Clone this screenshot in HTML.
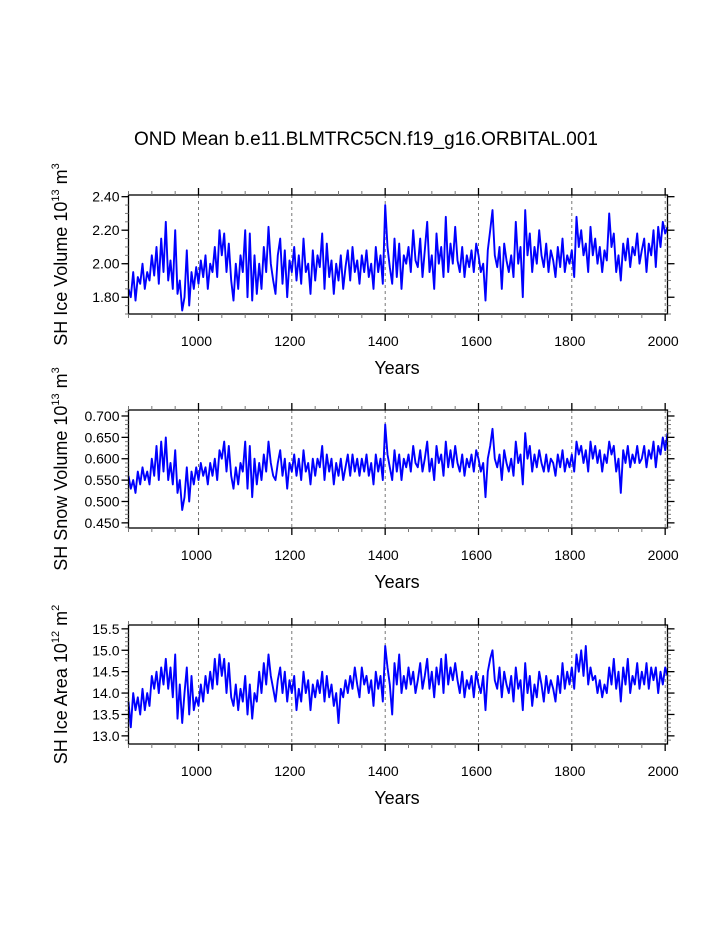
<!DOCTYPE html>
<html><head><meta charset="utf-8"><style>
body{margin:0;background:#fff;}
svg{display:block;font-family:"Liberation Sans",Arial,sans-serif;}
</style></head><body>
<svg id="c" width="723" height="935" xmlns="http://www.w3.org/2000/svg">
<rect width="723" height="935" fill="#fff"/>
<text x="366" y="145" text-anchor="middle" font-size="19">OND Mean b.e11.BLMTRC5CN.f19_g16.ORBITAL.001</text>
</svg>
<script>
const startYear = 850, stepYears = 5;
const iceVolume = [1.85,1.80,1.95,1.78,1.92,1.88,2.00,1.85,1.95,1.90,2.05,1.93,2.10,1.88,2.15,1.95,2.25,1.90,2.02,1.85,
2.20,1.82,1.90,1.72,1.80,2.08,1.75,1.95,1.85,1.98,1.88,2.02,1.92,2.05,1.85,2.00,1.95,2.10,1.92,2.20,
2.05,2.18,1.95,2.12,1.90,1.78,2.00,1.85,2.05,1.95,2.20,1.80,2.18,1.78,2.05,1.82,2.00,1.85,2.10,1.95,
2.22,2.00,1.90,1.82,2.05,2.15,1.88,2.08,1.80,2.02,1.95,2.10,1.90,2.05,1.88,2.15,1.95,2.00,1.82,2.08,
1.90,2.05,1.98,2.18,1.85,2.12,1.92,2.02,1.82,2.00,1.90,2.05,1.85,1.98,2.08,1.90,2.10,1.95,2.02,1.88,
2.05,1.95,2.08,1.92,2.00,1.85,2.10,1.95,2.05,1.88,2.35,2.10,1.98,1.88,2.15,1.92,2.12,1.85,2.05,2.00,
2.10,1.95,2.20,2.02,1.98,2.15,1.92,2.08,2.25,1.95,2.05,1.85,2.18,2.00,2.10,1.92,2.28,1.95,2.12,2.00,
2.22,2.02,1.95,2.10,1.92,2.05,1.98,2.08,1.95,2.12,2.05,1.95,2.00,1.78,2.08,2.20,2.32,2.05,1.98,2.10,
1.85,2.12,2.02,1.95,2.05,1.92,2.25,2.00,2.10,1.80,2.32,2.05,2.18,1.95,2.10,2.00,2.20,2.05,1.98,2.12,
1.95,2.08,2.02,1.92,2.10,1.98,2.15,1.95,2.05,2.00,2.08,1.92,2.28,2.10,2.20,2.05,2.12,1.95,2.22,2.05,
2.15,2.00,2.10,1.95,2.08,2.02,2.30,2.10,2.18,1.95,2.05,1.90,2.12,2.02,2.15,1.98,2.10,2.05,2.18,2.00,
2.08,2.15,1.95,2.12,2.05,2.20,1.98,2.22,2.10,2.25,2.18,2.22];
const snowVolume = [0.56,0.53,0.55,0.52,0.57,0.54,0.58,0.55,0.57,0.54,0.60,0.56,0.63,0.55,0.64,0.57,0.65,0.55,0.59,0.54,
0.62,0.52,0.55,0.48,0.51,0.58,0.50,0.57,0.54,0.58,0.55,0.59,0.56,0.58,0.54,0.59,0.56,0.60,0.55,0.62,
0.60,0.64,0.57,0.63,0.56,0.53,0.58,0.54,0.59,0.57,0.64,0.53,0.63,0.51,0.60,0.54,0.59,0.55,0.61,0.57,
0.64,0.59,0.56,0.55,0.59,0.62,0.56,0.60,0.53,0.59,0.57,0.61,0.56,0.60,0.55,0.62,0.57,0.59,0.54,0.60,
0.56,0.60,0.58,0.63,0.55,0.61,0.57,0.60,0.54,0.59,0.56,0.60,0.55,0.58,0.61,0.56,0.61,0.57,0.60,0.56,
0.60,0.57,0.61,0.56,0.59,0.54,0.61,0.57,0.60,0.55,0.68,0.61,0.58,0.55,0.62,0.57,0.61,0.55,0.60,0.58,
0.61,0.57,0.63,0.59,0.58,0.62,0.57,0.60,0.64,0.57,0.60,0.55,0.63,0.59,0.61,0.56,0.64,0.58,0.62,0.58,
0.63,0.59,0.57,0.61,0.56,0.60,0.58,0.61,0.57,0.62,0.60,0.57,0.59,0.51,0.60,0.63,0.67,0.60,0.58,0.61,
0.55,0.62,0.59,0.57,0.60,0.56,0.64,0.59,0.61,0.54,0.66,0.60,0.63,0.57,0.61,0.58,0.62,0.59,0.57,0.61,
0.57,0.60,0.59,0.56,0.61,0.58,0.62,0.57,0.60,0.58,0.61,0.57,0.64,0.61,0.63,0.59,0.62,0.57,0.64,0.60,
0.63,0.59,0.62,0.57,0.61,0.59,0.64,0.61,0.63,0.57,0.60,0.52,0.62,0.59,0.63,0.58,0.61,0.59,0.63,0.59,
0.60,0.63,0.58,0.62,0.60,0.64,0.58,0.63,0.61,0.65,0.62,0.66];
const iceArea = [13.8,13.2,14.0,13.6,13.9,13.5,14.1,13.6,14.0,13.7,14.4,14.1,14.5,14.0,14.6,14.2,14.8,14.1,14.6,13.9,
14.9,13.4,14.2,13.3,14.0,14.6,13.5,14.4,13.6,13.9,13.7,14.2,13.8,14.4,14.0,14.5,14.1,14.8,14.2,14.9,
14.4,14.8,14.0,14.7,13.9,13.7,14.2,13.6,14.1,13.8,14.4,13.5,14.2,13.4,14.0,13.8,14.5,14.0,14.7,14.2,
14.9,14.4,14.1,13.8,14.3,14.6,14.0,14.5,13.8,14.3,14.0,14.4,13.6,14.1,13.8,14.5,14.0,14.3,13.6,14.2,
13.9,14.3,14.0,14.5,13.8,14.4,13.9,14.2,13.7,14.0,13.3,14.1,13.9,14.3,14.0,14.4,14.1,14.6,14.2,13.9,
14.6,14.2,14.4,14.0,14.3,13.7,14.5,14.1,14.4,13.8,15.1,14.6,14.2,13.5,14.7,14.2,14.9,14.0,14.4,14.1,
14.6,14.2,14.5,14.0,14.3,14.7,14.1,14.4,14.8,14.1,14.5,13.9,14.6,14.2,14.8,14.0,14.9,14.2,14.6,14.3,
14.7,14.3,14.0,14.5,13.9,14.3,14.1,14.4,13.9,14.5,14.2,14.0,14.4,13.6,14.5,14.8,15.0,14.3,14.1,14.6,
13.9,14.5,14.2,14.0,14.4,13.8,14.6,14.1,14.3,13.6,14.7,14.0,14.4,13.7,14.2,13.9,14.5,14.2,13.8,14.4,
14.0,14.3,14.1,13.8,14.4,14.0,14.7,14.1,14.5,14.2,14.6,14.1,14.9,14.5,15.0,14.4,15.1,14.2,14.6,14.3,
14.4,14.0,14.3,13.9,14.2,14.0,14.6,14.2,14.8,14.1,14.5,13.8,14.6,14.2,14.8,14.0,14.4,14.2,14.7,14.1,
14.5,14.2,14.7,14.1,14.6,14.3,14.6,14.0,14.5,14.2,14.6,14.4];
const xTicks = [1000,1200,1400,1600,1800,2000];
const iceTicks = ["1.80","2.00","2.20","2.40"];
const snowTicks = ["0.450","0.500","0.550","0.600","0.650","0.700"];
const areaTicks = ["13.0","13.5","14.0","14.5","15.0","15.5"];

const NS="http://www.w3.org/2000/svg";
const svg=document.getElementById('c');
function mk(tag,attrs,parent){const e=document.createElementNS(NS,tag);for(const k in attrs)e.setAttribute(k,attrs[k]);(parent||svg).appendChild(e);return e;}
const L=128.5,R=667.5,xmin=850,xmax=2005;
function xs(v){return L+(v-xmin)/(xmax-xmin)*(R-L);}

function panel(name,top,bot,ymin,ymax,data,ticks,minorStep,title,sup,unitSup){
  const g=mk('g',{});
  
  
  const ys=v=>bot-(v-ymin)/(ymax-ymin)*(bot-top);
  xTicks.forEach(t=>{const l=mk('line',{x1:xs(t),x2:xs(t),y1:top,y2:bot,stroke:'#555','stroke-width':0.8,'stroke-dasharray':'3,3'},g);
    
    });
  let d='';
  data.forEach((v,i)=>{d+=(i?'L':'M')+xs(startYear+i*stepYears).toFixed(1)+','+ys(v).toFixed(1);});
  const p=mk('path',{d:d,fill:'none',stroke:'#0000ff','stroke-width':1.9,'stroke-linejoin':'round'},g);
  
  
  mk('rect',{x:L,y:top,width:R-L,height:bot-top,fill:'none',stroke:'#000','stroke-width':1.3},g);
  for(let y=850;y<=2005;y+=50){const maj=y%200===0;const len=maj?7:4;const c=maj?'#000':'#777';
    mk('line',{x1:xs(y),x2:xs(y),y1:bot,y2:bot+len,stroke:c,'stroke-width':maj?1.3:1},g);
    mk('line',{x1:xs(y),x2:xs(y),y1:top,y2:top-len,stroke:c,'stroke-width':maj?1.3:1},g);}
  xTicks.forEach(t=>{const tx=mk('text',{x:xs(t)-2,y:bot+32,'text-anchor':'middle','font-size':14},g);tx.textContent=t;
    
    });
  const yl=mk('text',{x:397,y:bot+60,'text-anchor':'middle','font-size':18},g);yl.textContent='Years';
  
  
  const lo=Math.ceil(ymin/minorStep-1e-6),hi=Math.floor(ymax/minorStep+1e-6);
  for(let k=lo;k<=hi;k++){const v=k*minorStep;const yy=ys(v);
    mk('line',{x1:L,x2:L-3.5,y1:yy,y2:yy,stroke:'#777','stroke-width':1},g);
    mk('line',{x1:R,x2:R+3.5,y1:yy,y2:yy,stroke:'#777','stroke-width':1},g);}
  ticks.forEach(s=>{const v=parseFloat(s),yy=ys(v);
    mk('line',{x1:L,x2:L-7,y1:yy,y2:yy,stroke:'#000','stroke-width':1.3},g);
    mk('line',{x1:R,x2:R+7,y1:yy,y2:yy,stroke:'#000','stroke-width':1.3},g);
    const tx=mk('text',{x:L-9,y:yy+5,'text-anchor':'end','font-size':14},g);tx.textContent=s;
    
    });
  const cy=(top+bot)/2;
  const t=mk('text',{x:0,y:0,'text-anchor':'middle','font-size':18,transform:`translate(67,${cy}) rotate(-90)`},g);
  
  
  t.innerHTML=title+' 10<tspan font-size="11" dy="-8">'+sup+'</tspan><tspan dy="8"> m</tspan><tspan font-size="11" dy="-8">'+unitSup+'</tspan>';
}
panel('ice-volume',195,314,1.70,2.41,iceVolume,iceTicks,0.05,'SH Ice Volume','13','3');
panel('snow-volume',410,528,0.438,0.714,snowVolume,snowTicks,0.01,'SH Snow Volume','13','3');
panel('ice-area',625,744,12.81,15.59,iceArea,areaTicks,0.1,'SH Ice Area','12','2');
</script>
</body></html>
